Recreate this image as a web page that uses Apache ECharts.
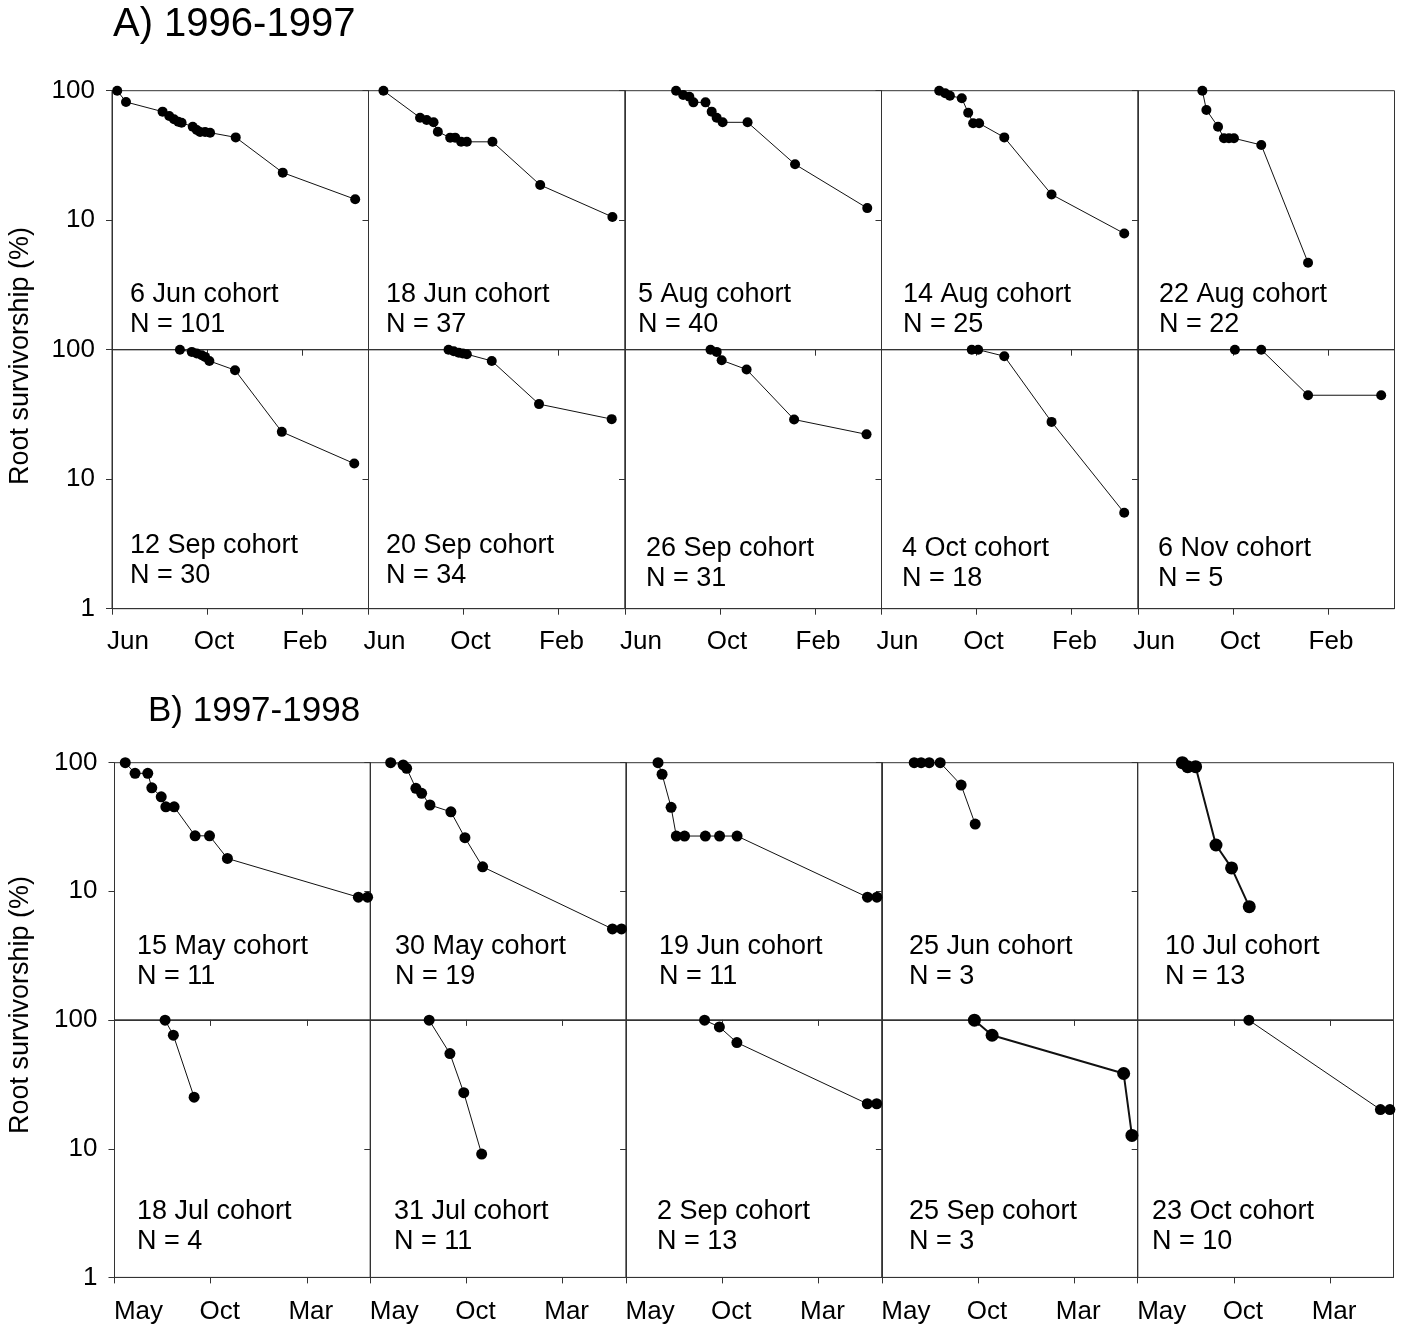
<!DOCTYPE html>
<html>
<head>
<meta charset="utf-8">
<script src="https://cdn.jsdelivr.net/npm/echarts@6/dist/echarts.min.js"></script>
<style>
  html, body { margin: 0; padding: 0; background: #fff; }
  #chart { width: 1405px; height: 1327px; }
</style>
</head>
<body>
<div id="chart"></div>
<script>
// Root survivorship (%) of each root cohort, on a log scale.
// x = months elapsed since the start of the season (A: 1 Jun 1996, B: 1 May 1997).

// ---- tick labels ----
const monthTicksA = ['Jun', 'Oct', 'Feb'];
const monthTickPosA = [0, 4, 8];
const monthTicksB = ['May', 'Oct', 'Mar'];
const monthTickPosB = [0, 5, 10];
const yTicks = [1, 10, 100];

// ---- cohorts ----
const cohortsA = ['6 Jun cohort', '18 Jun cohort', '5 Aug cohort', '14 Aug cohort', '22 Aug cohort',
                  '12 Sep cohort', '20 Sep cohort', '26 Sep cohort', '4 Oct cohort', '6 Nov cohort'];
const sizesA = [101, 37, 40, 25, 22, 30, 34, 31, 18, 5];
const cohortsB = ['15 May cohort', '30 May cohort', '19 Jun cohort', '25 Jun cohort', '10 Jul cohort',
                  '18 Jul cohort', '31 Jul cohort', '2 Sep cohort', '25 Sep cohort', '23 Oct cohort'];
const sizesB = [11, 19, 11, 3, 13, 4, 11, 13, 3, 10];

// ---- survivorship series: [months, % surviving] ----
// 1996-1997
const a6Jun  = [[0.22,100],[0.59,81.8],[2.13,68.9],[2.41,63.8],[2.61,60.2],[2.79,57.6],[2.93,56.6],[3.40,52.7],[3.57,49.7],[3.71,48.0],[3.92,48.0],[4.13,47.4],[5.21,43.6],[7.19,23.3],[10.24,14.5]];
const a18Jun = [[0.63,100],[2.17,61.9],[2.45,59.4],[2.74,57.0],[2.92,48.2],[3.44,43.4],[3.65,43.4],[3.90,40.3],[4.14,40.3],[5.22,40.3],[7.23,18.7],[10.27,10.6]];
const a5Aug  = [[2.15,100],[2.45,92.6],[2.71,89.9],[2.88,81.3],[3.39,81.3],[3.65,68.9],[3.86,61.9],[4.11,57.0],[5.16,57.0],[7.16,27.0],[10.20,12.4]];
const a14Aug = [[2.43,100],[2.68,95.5],[2.88,91.5],[3.38,87.4],[3.65,67.6],[3.86,56.0],[4.11,56.0],[5.17,43.6],[7.16,15.8],[10.22,7.9]];
const a22Aug = [[2.71,100],[2.88,71.0],[3.37,52.7],[3.62,42.9],[3.83,42.9],[4.04,42.9],[5.19,38.1],[7.16,4.7]];
const a12Sep = [[2.86,100],[3.36,96.2],[3.57,93.5],[3.78,90.7],[3.92,88.0],[4.10,81.9],[5.18,69.5],[7.15,23.2],[10.20,13.2]];
const a20Sep = [[3.37,100],[3.59,97.4],[3.80,94.8],[3.97,93.5],[4.14,92.3],[5.19,81.9],[7.18,38.0],[10.24,29.1]];
const a26Sep = [[3.60,100],[3.86,96.2],[4.07,82.9],[5.12,70.3],[7.12,28.9],[10.17,22.2]];
const a4Oct  = [[3.80,100],[4.07,100],[5.17,89.1],[7.16,27.7],[10.22,5.5]];
const a6Nov  = [[4.08,100],[5.19,100],[7.16,44.5],[10.24,44.5]];
// 1997-1998
const b15May = [[0.56,100],[1.07,82.7],[1.73,82.7],[1.94,63.8],[2.43,54.3],[2.67,45.4],[3.10,45.4],[4.19,27.0],[4.94,27.0],[5.87,18.0],[12.68,9.0],[13.16,9.0]];
const b30May = [[1.06,100],[1.71,96.0],[1.89,90.5],[2.37,63.2],[2.67,57.8],[3.10,46.9],[4.19,41.5],[4.92,26.1],[5.84,15.5],[12.59,5.1],[13.06,5.1]];
const b19Jun = [[1.66,100],[1.87,81.3],[2.34,45.0],[2.61,26.9],[3.04,26.9],[4.12,26.9],[4.86,26.9],[5.77,26.9],[12.55,9.0],[13.04,9.0]];
const b25Jun = [[1.68,100],[2.04,100],[2.46,100],[3.03,100],[4.12,67.0],[4.85,33.3]];
const b10Jul = [[2.32,100],[2.60,93.1],[3.01,93.1],[4.07,22.9],[4.88,15.2],[5.80,7.6]];
const b18Jul = [[2.63,100],[3.06,76.4],[4.14,25.2]];
const b31Jul = [[3.06,100],[4.14,55.0],[4.86,27.3],[5.79,9.1]];
const b2Sep  = [[4.08,100],[4.85,88.7],[5.76,67.0],[12.54,22.4],[13.03,22.4]];
const b25Sep = [[4.81,100],[5.73,76.4],[12.57,38.5],[13.00,12.7]];
const b23Oct = [[5.78,100],[12.62,20.2],[13.11,20.2]];

// ---- layout ----
const FONT = '"Liberation Sans", Arial, Helvetica, sans-serif';
const INK = '#111';
const FRAME = '#333';

// cohort caption anchors: [left x, centre y of first line]
const captionsA = [[130,295],[386,295],[638,295],[903,295],[1159,295],
                   [130,546],[386,546],[646,549],[902,549],[1158,549]];
const captionsB = [[137,947],[395,947],[659,947],[909,947],[1165,947],
                   [137,1212],[394,1212],[657,1212],[909,1212],[1152,1212]];

const panels = [
  {
    title: 'A) 1996-1997', titleX: 113, titleY: 25, titleSize: 40,
    axisTitleY: 356,
    left: 112, colW: 256.5, tops: [90.7, 349.7], rowH: 259,
    xMax: 10.8, tickPos: monthTickPosA, tickText: monthTicksA, labelPad: [32, 14, 6], labelMargin: 20,
    cohorts: cohortsA, sizes: sizesA, captions: captionsA,
    series: [a6Jun, a18Jun, a5Aug, a14Aug, a22Aug, a12Sep, a20Sep, a26Sep, a4Oct, a6Nov],
    dot: 10, heavy: []
  },
  {
    title: 'B) 1997-1998', titleX: 148, titleY: 711, titleSize: 35,
    axisTitleY: 1005,
    left: 114.5, colW: 255.8, tops: [762.7, 1020.2], rowH: 257.2,
    xMax: 13.3, tickPos: monthTickPosB, tickText: monthTicksB, labelPad: [48, 18, 8], labelMargin: 21,
    cohorts: cohortsB, sizes: sizesB, captions: captionsB,
    series: [b15May, b30May, b19Jun, b25Jun, b10Jul, b18Jul, b31Jul, b2Sep, b25Sep, b23Oct],
    dot: 11, heavy: ['10 Jul cohort', '25 Sep cohort']
  }
];

const grid = [], xAxis = [], yAxis = [], series = [], graphic = [];

panels.forEach(p => {
  graphic.push({
    type: 'text', x: p.titleX, y: p.titleY,
    style: { text: p.title, x: 0, y: 0, verticalAlign: 'middle',
             font: p.titleSize + 'px ' + FONT, fill: '#000' }
  });
  graphic.push({
    type: 'text', x: 21, y: p.axisTitleY, rotation: Math.PI / 2,
    style: { text: 'Root survivorship (%)', x: 0, y: 0, align: 'center', verticalAlign: 'middle',
             font: '27px ' + FONT, fill: '#000' }
  });

  p.series.forEach((data, k) => {
    const row = Math.floor(k / 5), col = k % 5;
    const g = grid.length;
    grid.push({
      left: p.left + col * p.colW, top: p.tops[row],
      width: p.colW, height: p.rowH,
      show: true, borderColor: FRAME, borderWidth: 1, backgroundColor: 'transparent'
    });

    const rich = {};
    p.tickText.forEach((t, i) => {
      rich['p' + i] = { padding: [0, 0, 0, p.labelPad[i]], fontSize: 26, fontFamily: FONT, color: '#000' };
    });
    xAxis.push({
      type: 'value', gridIndex: g, min: 0, max: p.xMax,
      axisLine: { show: true, onZero: false, lineStyle: { color: FRAME, width: 1 } },
      axisTick: { show: true, inside: false, length: 6, customValues: p.tickPos,
                  lineStyle: { color: FRAME, width: 1 } },
      axisLabel: {
        show: row === 1, customValues: p.tickPos, margin: p.labelMargin,
        fontSize: 26, fontFamily: FONT, color: '#000',
        formatter: v => {
          const i = p.tickPos.findIndex(t => Math.abs(t - v) < 1e-6);
          return i < 0 ? '' : '{p' + i + '|' + p.tickText[i] + '}';
        },
        rich
      },
      splitLine: { show: false }
    });

    yAxis.push({
      type: 'log', logBase: 10, gridIndex: g, min: yTicks[0], max: yTicks[yTicks.length - 1],
      axisLine: { show: true, lineStyle: { color: FRAME, width: 1 } },
      axisTick: { show: true, inside: false, length: 6, lineStyle: { color: FRAME, width: 1 } },
      axisLabel: {
        show: col === 0, margin: 17, fontSize: 26, fontFamily: FONT, color: '#000',
        formatter: v => {
          const r = Math.round(v);
          if (row === 0 && r === yTicks[0]) return '';
          return yTicks.indexOf(r) >= 0 ? String(r) : '';
        }
      },
      splitLine: { show: false }
    });

    const heavy = p.heavy.indexOf(p.cohorts[k]) >= 0;
    series.push({
      type: 'line', name: p.cohorts[k], xAxisIndex: g, yAxisIndex: g, data,
      symbol: 'circle', symbolSize: heavy ? 13 : p.dot, showSymbol: true, clip: false,
      lineStyle: { color: INK, width: heavy ? 2 : 1 },
      itemStyle: { color: '#000', borderWidth: 0 },
      silent: true, animation: false
    });

    const [cx, cy] = p.captions[k];
    graphic.push({
      type: 'text', x: cx, y: cy - 15,
      style: { text: p.cohorts[k] + '\nN = ' + p.sizes[k], font: '27px ' + FONT, lineHeight: 30,
               verticalAlign: 'top', fill: '#000' }
    });
  });
});

const chart = echarts.init(document.getElementById('chart'), null, { renderer: 'canvas' });
chart.setOption({
  animation: false,
  backgroundColor: '#fff',
  textStyle: { fontFamily: FONT },
  grid, xAxis, yAxis, series, graphic
});
</script>
</body>
</html>
